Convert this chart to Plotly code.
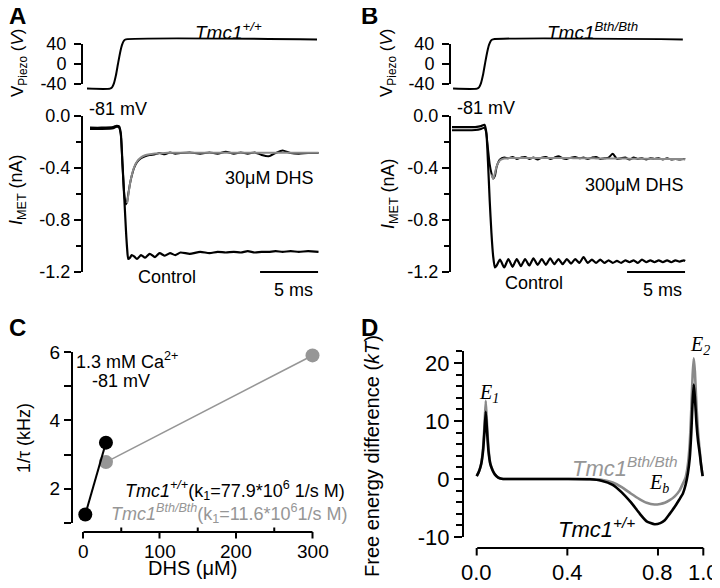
import plotly.graph_objects as go

# ---------------- data ----------------
# Panels A/B: piezo command (time in ms, volts)
piezo_a_time = [-0.26, 1.72, 1.9, 2.07, 2.24, 2.41, 2.59, 2.76, 2.93, 3.1, 19.57]
piezo_a_volt = [-40, -40, -38, -31, -18, 0, 18, 31, 38, 40, 40]
piezo_b_time = [0.09, 2.16, 2.33, 2.5, 2.67, 2.84, 3.02, 3.19, 3.36, 3.53, 19.9]
piezo_b_volt = [-40, -40, -38, -31, -18, 0, 18, 31, 38, 40, 40]

# Panel A: MET currents (ms, nA)
a_time = [0, 1, 2, 2.3, 2.5, 2.65, 2.8, 2.95, 3.1, 3.2,
          3.3, 3.45, 3.6, 3.8, 4.05, 4.4, 4.75, 5.15, 5.6, 6.0,
          6.45, 6.9, 7.35, 7.8, 8.6, 9.5, 10.3, 11.0, 11.7, 12.4,
          13.0, 13.6, 14.2, 14.8, 15.4, 16.0, 16.6, 17.3, 18.0, 18.8, 19.7]
a_control = [-0.09, -0.09, -0.085, -0.075, -0.08, -0.13, -0.37, -0.62, -0.88, -1.02,
             -1.10, -1.09, -1.07, -1.08, -1.10, -1.07, -1.09, -1.06, -1.085, -1.055,
             -1.075, -1.055, -1.07, -1.05, -1.06, -1.045, -1.055, -1.045, -1.05, -1.045,
             -1.05, -1.04, -1.05, -1.045, -1.045, -1.04, -1.045, -1.04, -1.045, -1.04, -1.045]
a_dhs = [-0.10, -0.10, -0.095, -0.082, -0.088, -0.14, -0.37, -0.60, -0.68, -0.66,
         -0.60, -0.52, -0.46, -0.40, -0.355, -0.325, -0.31, -0.30, -0.295, -0.285,
         -0.295, -0.28, -0.29, -0.285, -0.28, -0.29, -0.28, -0.29, -0.275, -0.29,
         -0.28, -0.29, -0.28, -0.30, -0.31, -0.285, -0.265, -0.285, -0.29, -0.285, -0.285]
a_fit = [None, None, None, None, None, None, None, None, None, -0.67,
         -0.61, -0.52, -0.455, -0.395, -0.35, -0.318, -0.302, -0.294, -0.289, -0.286,
         -0.284, -0.283, -0.282, -0.282, -0.282, -0.282, -0.282, -0.282, -0.282, -0.282,
         -0.282, -0.282, -0.282, -0.282, -0.282, -0.282, -0.282, -0.282, -0.282, -0.282, -0.282]

# Panel B: MET currents (ms, nA)
b_time = [0, 1, 2, 2.5, 2.8, 2.95, 3.1, 3.25, 3.4, 3.55, 3.7, 3.85,
          4.14, 4.5, 4.86, 5.22, 5.58, 5.94, 6.3, 6.66, 7.02, 7.38,
          7.74, 8.1, 8.46, 8.82, 9.18, 9.54, 9.9, 10.26, 10.62, 10.98,
          11.34, 11.7, 12.06, 12.42, 12.78, 13.14, 13.5, 13.86, 14.22, 14.58,
          14.94, 15.3, 15.66, 16.02, 16.38, 16.74, 17.1, 17.46, 17.82, 18.18,
          18.54, 18.9, 19.26, 19.62, 19.98, 20.1]
b_control = [-0.085, -0.085, -0.085, -0.078, -0.068, -0.12, -0.35, -0.65, -0.90, -1.08, -1.165, -1.15,
             -1.105, -1.165, -1.10, -1.16, -1.10, -1.155, -1.10, -1.15, -1.095, -1.145,
             -1.10, -1.145, -1.095, -1.14, -1.10, -1.14, -1.10, -1.135, -1.10, -1.13,
             -1.085, -1.13, -1.105, -1.13, -1.105, -1.13, -1.11, -1.13, -1.115, -1.13,
             -1.11, -1.125, -1.11, -1.13, -1.105, -1.125, -1.11, -1.125, -1.11, -1.125,
             -1.11, -1.125, -1.11, -1.12, -1.11, -1.115]
b_dhs = [-0.11, -0.11, -0.108, -0.10, -0.09, -0.13, -0.25, -0.37, -0.44, -0.48, -0.46, -0.39,
         -0.335, -0.32, -0.325, -0.315, -0.33, -0.32, -0.315, -0.33, -0.32, -0.335,
         -0.32, -0.315, -0.33, -0.32, -0.31, -0.325, -0.33, -0.32, -0.315, -0.325,
         -0.32, -0.33, -0.32, -0.315, -0.33, -0.325, -0.32, -0.29, -0.33, -0.325,
         -0.32, -0.335, -0.32, -0.33, -0.325, -0.335, -0.325, -0.33, -0.325, -0.335,
         -0.325, -0.335, -0.33, -0.335, -0.33, -0.333]
b_fit = [None, None, None, None, None, None, None, None, -0.45, -0.485, -0.44, -0.385,
         -0.34, -0.327, -0.324, -0.323, -0.323, -0.323, -0.323, -0.323, -0.323, -0.323,
         -0.323, -0.323, -0.323, -0.324, -0.324, -0.324, -0.324, -0.324, -0.325, -0.325,
         -0.325, -0.325, -0.325, -0.326, -0.326, -0.326, -0.326, -0.327, -0.327, -0.327,
         -0.327, -0.328, -0.328, -0.328, -0.329, -0.329, -0.329, -0.33, -0.33, -0.33,
         -0.33, -0.331, -0.331, -0.331, -0.332, -0.332]

# Panel C: 1/tau vs DHS
c_wt_dhs = [3, 30]
c_wt_rate = [1.25, 3.35]
c_bth_dhs = [30, 300]
c_bth_rate = [2.78, 5.9]

# Panel D: free energy profiles (kT) along normalised position
d_pos = [0.0, 0.01, 0.02, 0.028, 0.034, 0.04, 0.046, 0.052, 0.06, 0.07, 0.08, 0.095, 0.11, 0.13,
         0.2, 0.3, 0.4, 0.5,
         0.55, 0.6, 0.64, 0.68, 0.72, 0.75, 0.785, 0.81, 0.83, 0.85,
         0.874, 0.895, 0.91, 0.922, 0.932,
         0.94, 0.947, 0.953, 0.958, 0.963, 0.97, 0.977, 0.984, 0.99, 0.997]
d_wt = [0.5, 1.3, 2.6, 4.8, 8.0, 11.6, 8.0, 4.8, 2.6, 1.5, 0.8, 0.25, 0.05, 0.0,
        0.0, 0.0, 0.0, -0.05,
        -0.3, -1.0, -2.3, -4.0, -6.0, -7.3, -7.8, -7.6, -7.1, -6.1,
        -4.8, -3.5, -2.5, -1.0, 1.0,
        3.5, 8.0, 13.5, 16.3, 14.0, 9.5, 6.5, 4.5, 2.5, 0.5]
d_bth = [0.5, 1.3, 2.7, 5.3, 9.0, 13.5, 9.0, 5.3, 2.7, 1.5, 0.8, 0.25, 0.05, 0.0,
         0.0, 0.0, 0.0, -0.03,
         -0.15, -0.6, -1.4, -2.5, -3.5, -4.1, -4.4, -4.3, -4.1, -3.7,
         -3.0, -2.0, -0.8, 0.3, 2.5,
         6.0, 12.0, 18.0, 20.8, 18.5, 12.5, 8.0, 5.0, 2.5, 0.5]

# tick labels
piezo_ticks = [-40, 0, 40]
piezo_ticktext = ['-40', '0', '40']
imet_ticks = [-1.2, -0.8, -0.4, 0.0]
imet_ticktext = ['-1.2', '-0.8', '-0.4', '0.0']
imet_minor = [-1.0, -0.6, -0.2]
c_xticks = [0, 100, 200, 300]
c_xticktext = ['0', '100', '200', '300']
c_xminor = [50, 150, 250]
c_yticks = [1, 2, 3, 4, 5, 6]
c_yticktext = ['', '2', '', '4', '', '6']
d_xticks = [0, 0.4, 0.8, 1.0]
d_xticktext = ['0.0', '0.4', '0.8', '1.0']
d_yticks = [-10, 0, 10, 20]
d_yticktext = ['-10', '0', '10', '20']
d_yminor = [-8, -6, -4, -2, 2, 4, 6, 8, 12, 14, 16, 18, 22]
scale_bar_ms = 5

# ---------------- layout helpers ----------------
# The page adds an 8 px body margin on every side; a 704x572 figure fills the 720x588 window exactly.
OFF = 8
W, H = 720 - 2 * OFF, 588 - 2 * OFF
def clamp01(v):
    return min(1.0, max(0.0, v))
def X(px):
    return (px - OFF) / W
def Y(py):
    return 1 - (py - OFF) / H
def ydom(pbot, ptop):
    return [clamp01(Y(pbot)), clamp01(Y(ptop))]

SANS = 'Liberation Sans, Arial, Helvetica, sans-serif'
SERIF = 'Liberation Serif, Times New Roman, serif'
BLACK = 'black'
GRAY = 'rgb(138,138,138)'
GRAY_TXT = 'rgb(150,150,150)'
MS_PX = 11.6

A_T0 = 90
B_T0 = 452
A_RANGE = [-0.4, 20.0]
B_RANGE = [-0.4, 20.4]

def tdom(t0px, rng):
    return [clamp01(X(t0px + rng[0] * MS_PX)), clamp01(X(t0px + rng[1] * MS_PX))]

def lin_domain(px_lo, px_hi, lo, hi, rng):
    s = (px_hi - px_lo) / (hi - lo)
    return [clamp01(X(px_lo + (rng[0] - lo) * s)), clamp01(X(px_lo + (rng[1] - lo) * s))]

def line(w=2, color=BLACK, smooth=0.6):
    return dict(color=color, width=w, shape='spline', smoothing=smooth)

C_XRANGE = [-12, 312]
D_XRANGE = [-0.03, 1.03]

fig = go.Figure()

# A piezo (data axis x/y), display axis x2/y2
fig.add_trace(go.Scatter(x=piezo_a_time, y=piezo_a_volt, xaxis='x', yaxis='y', mode='lines', line=line(2)))
fig.add_trace(go.Scatter(x=[None], y=[None], xaxis='x2', yaxis='y2', mode='lines'))
# A currents x3/y3
fig.add_trace(go.Scatter(x=a_time, y=a_control, xaxis='x3', yaxis='y3', mode='lines', line=line(2.2)))
fig.add_trace(go.Scatter(x=a_time, y=a_dhs, xaxis='x3', yaxis='y3', mode='lines', line=line(2)))
fig.add_trace(go.Scatter(x=a_time, y=a_fit, xaxis='x3', yaxis='y3', mode='lines', line=line(2, GRAY)))
# B piezo x4/y4, display x5/y5
fig.add_trace(go.Scatter(x=piezo_b_time, y=piezo_b_volt, xaxis='x4', yaxis='y4', mode='lines', line=line(2)))
fig.add_trace(go.Scatter(x=[None], y=[None], xaxis='x5', yaxis='y5', mode='lines'))
# B currents x6/y6
fig.add_trace(go.Scatter(x=b_time, y=b_control, xaxis='x6', yaxis='y6', mode='lines', line=line(2.2)))
fig.add_trace(go.Scatter(x=b_time, y=b_dhs, xaxis='x6', yaxis='y6', mode='lines', line=line(2)))
fig.add_trace(go.Scatter(x=b_time, y=b_fit, xaxis='x6', yaxis='y6', mode='lines', line=line(2, GRAY)))
# C
fig.add_trace(go.Scatter(x=c_bth_dhs, y=c_bth_rate, xaxis='x7', yaxis='y7', mode='lines+markers',
                         line=dict(color='rgb(150,150,150)', width=1.6),
                         marker=dict(color='rgb(150,150,150)', size=14), cliponaxis=False))
fig.add_trace(go.Scatter(x=c_wt_dhs, y=c_wt_rate, xaxis='x7', yaxis='y7', mode='lines+markers',
                         line=dict(color=BLACK, width=2),
                         marker=dict(color=BLACK, size=14), cliponaxis=False))
# D
fig.add_trace(go.Scatter(x=d_pos, y=d_bth, xaxis='x8', yaxis='y8', mode='lines', line=line(2.6, GRAY, 0.5)))
fig.add_trace(go.Scatter(x=d_pos, y=d_wt, xaxis='x8', yaxis='y8', mode='lines', line=line(2.6, BLACK, 0.5)))

HIDDEN = dict(visible=False, showgrid=False, zeroline=False)
AX = dict(showgrid=False, zeroline=False, showline=True, linecolor=BLACK, linewidth=2,
          ticks='outside', tickcolor=BLACK, tickwidth=2, ticklen=7, automargin=False,
          layer='above traces')

def tf(size):
    return dict(family=SANS, size=size, color=BLACK)

fig.update_layout(
    width=W, height=H, margin=dict(l=0, r=0, t=0, b=0),
    paper_bgcolor='white', plot_bgcolor='rgba(0,0,0,0)', showlegend=False,
    font=dict(family=SANS, color=BLACK),
    # A piezo data
    xaxis=dict(HIDDEN, domain=tdom(A_T0, A_RANGE), range=A_RANGE, anchor='y'),
    yaxis=dict(HIDDEN, domain=ydom(96, 32), range=[-52, 52], anchor='x'),
    xaxis2=dict(HIDDEN, domain=tdom(A_T0, A_RANGE), range=A_RANGE, anchor='y2'),
    yaxis2=dict(AX, domain=ydom(84, 44), range=[-40, 40], anchor='free', position=X(82),
                tickvals=piezo_ticks, ticktext=piezo_ticktext, tickfont=tf(18), ticklabelstandoff=4),
    xaxis3=dict(HIDDEN, domain=tdom(A_T0, A_RANGE), range=A_RANGE, anchor='y3'),
    yaxis3=dict(AX, domain=ydom(272, 116), range=[-1.2, 0], anchor='free', position=X(82),
                tickvals=imet_ticks, ticktext=imet_ticktext, tickfont=tf(18),
                minor=dict(tickvals=imet_minor, ticks='outside', ticklen=5, tickwidth=2, tickcolor=BLACK, showgrid=False)),
    # B
    xaxis4=dict(HIDDEN, domain=tdom(B_T0, B_RANGE), range=B_RANGE, anchor='y4'),
    yaxis4=dict(HIDDEN, domain=ydom(96, 32), range=[-52, 52], anchor='x4'),
    xaxis5=dict(HIDDEN, domain=tdom(B_T0, B_RANGE), range=B_RANGE, anchor='y5'),
    yaxis5=dict(AX, domain=ydom(84, 44), range=[-40, 40], anchor='free', position=X(450),
                tickvals=piezo_ticks, ticktext=piezo_ticktext, tickfont=tf(18), ticklabelstandoff=4),
    xaxis6=dict(HIDDEN, domain=tdom(B_T0, B_RANGE), range=B_RANGE, anchor='y6'),
    yaxis6=dict(AX, domain=ydom(272, 116), range=[-1.2, 0], anchor='free', position=X(450),
                tickvals=imet_ticks, ticktext=imet_ticktext, tickfont=tf(18),
                minor=dict(tickvals=imet_minor, ticks='outside', ticklen=5, tickwidth=2, tickcolor=BLACK, showgrid=False)),
    # C
    xaxis7=dict(HIDDEN, domain=lin_domain(83, 312.5, 0, 300, C_XRANGE), range=C_XRANGE, anchor='y7'),
    yaxis7=dict(AX, domain=ydom(523, 352), range=[1, 6], anchor='free', position=X(72), side='left',
                tickvals=c_yticks, ticktext=c_yticktext, tickfont=tf(19)),
    # D
    xaxis8=dict(HIDDEN, domain=lin_domain(476.7, 703.3, 0, 1, D_XRANGE), range=D_XRANGE, anchor='y8'),
    yaxis8=dict(AX, domain=ydom(537, 351.4), range=[-10, 22], anchor='free', position=X(463), side='left',
                tickvals=d_yticks, ticktext=d_yticktext, tickfont=tf(22), ticklen=8,
                minor=dict(tickvals=d_yminor, ticks='outside', ticklen=6, tickwidth=2, tickcolor=BLACK, showgrid=False)),
)

# scale bars (5 ms) in A and B
for xref, t_end in (('x3', 19.66), ('x6', 20.09)):
    fig.add_shape(type='line', xref=xref, yref='paper', x0=t_end - scale_bar_ms, x1=t_end,
                  y0=Y(272), y1=Y(272), line=dict(color=BLACK, width=2))

def label(text, x, y, size, color=BLACK, xanchor='left', yanchor='middle', angle=0, family=SANS,
          xref='paper'):
    fig.add_annotation(text=text, x=(x if xref != 'paper' else X(x)), y=Y(y), xref=xref, yref='paper',
                       showarrow=False, xanchor=xanchor, yanchor=yanchor, textangle=angle, borderpad=0,
                       font=dict(size=size, color=color, family=family))

def seg(xref, x_head, y_px, x_tail=None, dy_tail=0):
    """Axis line / tick drawn as a headless annotation arrow on the xref scale."""
    kw = dict(x=x_head, y=Y(y_px), xref=xref, yref='paper', text='', showarrow=True,
              arrowhead=0, arrowwidth=2, arrowcolor=BLACK, standoff=0, startstandoff=0,
              borderpad=0, ayref='pixel', ay=dy_tail)
    if x_tail is None:
        kw.update(axref='pixel', ax=0)
    else:
        kw.update(axref=xref, ax=x_tail)
    fig.add_annotation(**kw)

# C bottom axis: line, major ticks (down), minor ticks (up), labels
seg('x7', c_xticks[-1], 532, x_tail=c_xticks[0])
for v, t in zip(c_xticks, c_xticktext):
    seg('x7', v, 532, dy_tail=7)
    label(t, v, 551, 19, xanchor='center', xref='x7')
for v in c_xminor:
    seg('x7', v, 532, dy_tail=-5)

# D bottom axis
seg('x8', d_xticks[-1], 548, x_tail=d_xticks[0])
for v, t in zip(d_xticks, d_xticktext):
    seg('x8', v, 548, dy_tail=8)
    label(t, v, 572, 22, xanchor='center', xref='x8')

VPIEZO = 'V<sub>Piezo</sub> (<i>V</i>)'
IMET = '<i>I</i><sub>MET</sub> (nA)'

# A
label('<b>A</b>', 8, 16, 24)
label('<i>Tmc1</i><sup><i>+/+</i></sup>', 194, 31, 19)
label(VPIEZO, 19, 63, 17, xanchor='center', angle=-90)
label('-81 mV', 88, 109, 18)
label('30μM DHS', 314, 178, 18, xanchor='right')
label('Control', 137, 277, 18)
label('5 ms', 314, 290, 18, xanchor='right')
label(IMET, 18, 190, 18, xanchor='center', angle=-90)
# B
label('<b>B</b>', 360, 16, 24)
label('<i>Tmc1</i><sup><i>Bth/Bth</i></sup>', 546, 31, 19)
label(VPIEZO, 388, 63, 17, xanchor='center', angle=-90)
label('-81 mV', 456, 108, 18)
label('300μM DHS', 684, 185, 18, xanchor='right')
label('Control', 504, 283, 18)
label('5 ms', 683, 290, 18, xanchor='right')
label(IMET, 389, 193, 18, xanchor='center', angle=-90)
# C
label('<b>C</b>', 8, 327, 24)
label('1.3 mM Ca<sup>2+</sup>', 75, 360, 18)
label('-81 mV', 91, 381, 18)
label('<i>Tmc1</i><sup><i>+/+</i></sup>(k<sub>1</sub>=77.9*10<sup>6</sup> 1/s M)', 124, 490, 18)
label('<i>Tmc1</i><sup><i>Bth/Bth</i></sup>(k<sub>1</sub>=11.6*10<sup>6</sup>1/s M)', 110, 513, 18, color=GRAY_TXT)
label('1/τ (kHz)', 24, 438, 18, xanchor='center', angle=-90)
label('DHS (μM)', 193, 568, 20, xanchor='center')
# D
label('<b>D</b>', 360, 327, 24)
label('Free energy difference (<i>kT</i>)', 372, 456, 20, xanchor='center', angle=-90)
label('<i>E</i><sub><i>1</i></sub>', 489, 393, 20, xanchor='center', family=SERIF)
label('<i>E</i><sub><i>2</i></sub>', 700, 345, 20, xanchor='center', family=SERIF)
label('<i>E</i><sub><i>b</i></sub>', 659, 483, 20, xanchor='center', family=SERIF)
label('<i>Tmc1</i><sup><i>Bth/Bth</i></sup>', 571, 467, 22, color=GRAY_TXT)
label('<i>Tmc1</i><sup><i>+/+</i></sup>', 557, 528, 22)

fig.write_html('out.html')
